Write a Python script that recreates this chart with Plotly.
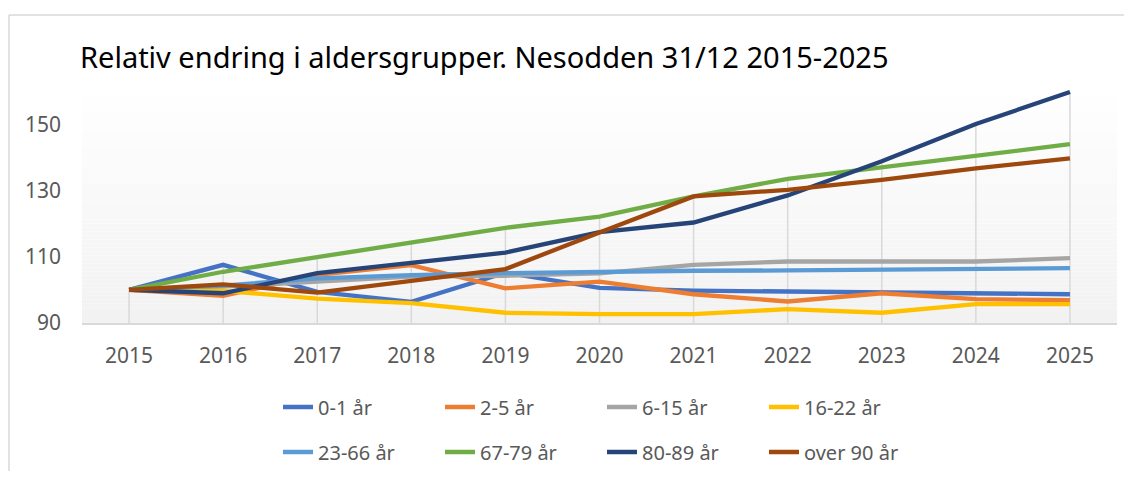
import plotly.graph_objects as go

years = [2015, 2016, 2017, 2018, 2019, 2020, 2021, 2022, 2023, 2024, 2025]

age_0_1 = [100, 107.6, 99.4, 96.4, 105.2, 100.6, 99.8, 99.5, 99.3, 99.0, 98.7]
age_2_5 = [100, 98.2, 104.6, 107.5, 100.5, 102.5, 98.7, 96.5, 99.0, 97.2, 96.9]
age_6_15 = [100, 101.0, 102.5, 104.0, 104.3, 105.0, 107.6, 108.6, 108.6, 108.6, 109.6]
age_16_22 = [100, 99.7, 97.4, 96.0, 93.1, 92.7, 92.7, 94.2, 93.1, 95.7, 95.7]
age_23_66 = [100, 101.3, 103.5, 104.5, 105.1, 105.5, 105.8, 105.9, 106.1, 106.3, 106.6]
age_67_79 = [100, 105.5, 109.9, 114.5, 118.8, 122.2, 128.3, 133.6, 137.2, 140.6, 144.1]
age_80_89 = [100, 99.0, 105.1, 108.1, 111.3, 117.5, 120.4, 128.6, 138.9, 150.2, 159.9]
age_90_plus = [100, 101.7, 99.2, 102.8, 106.3, 117.4, 128.3, 130.3, 133.3, 136.8, 139.8]

series_names = ["0-1 år", "2-5 år", "6-15 år", "16-22 år",
                "23-66 år", "67-79 år", "80-89 år", "over 90 år"]
series_values = [age_0_1, age_2_5, age_6_15, age_16_22,
                 age_23_66, age_67_79, age_80_89, age_90_plus]
colors = ["#4472C4", "#ED7D31", "#A5A5A5", "#FFC000",
          "#5B9BD5", "#70AD47", "#264478", "#9E480E"]

y_ticks = [90, 110, 130, 150]
title_text = "Relativ endring i aldersgrupper. Nesodden 31/12 2015-2025"

# the page body adds an 8px margin on every side; keep the figure inside
# the window so no scrollbars appear (figure px = page px - 8)
W, H = 1124, 463
ML, MR, MT, MB = 74, 15, 77, 148
YMIN, YMAX = 90, 162

fig = go.Figure()

# Drop lines (from highest point of each category down to the axis)
drop_x, drop_y = [], []
for i, yr in enumerate(years):
    top = max(s[i] for s in series_values)
    drop_x += [yr, yr, None]
    drop_y += [YMIN, top, None]
fig.add_trace(go.Scatter(x=drop_x, y=drop_y, mode="lines",
                         line=dict(color="#D9D9D9", width=1.5),
                         hoverinfo="skip", showlegend=False))

for k, (name, vals, col) in enumerate(zip(series_names, series_values, colors)):
    fig.add_trace(go.Scatter(
        x=years, y=vals, name=name, mode="lines",
        line=dict(color=col, width=4.3),
        legend="legend" if k < 4 else "legend2",
    ))

# gradient background of plot area
shapes = []
n = 60
for i in range(n):
    t = i / (n - 1)
    c = int(round(255 - (255 - 242) * (1 - t)))
    shapes.append(dict(type="rect", xref="x domain", yref="y domain",
                       x0=0, x1=1, y0=i / n, y1=(i + 1) / n,
                       fillcolor=f"rgb({c},{c},{c})", line=dict(width=0),
                       layer="below"))

pw = W - ML - MR
ph = H - MT - MB

def py(p):
    return (H - MB - p) / ph

def px(p):
    return (p - ML) / pw

# outer chart border (top and left edges)
border = dict(color="#D9D9D9", width=1.5)
shapes.append(dict(type="line", xref="paper", yref="paper",
                   x0=px(1), x1=px(W), y0=py(7), y1=py(7), line=border, layer="below"))
shapes.append(dict(type="line", xref="paper", yref="paper",
                   x0=px(1), x1=px(1), y0=py(7), y1=py(H), line=border, layer="below"))

font_family = "Noto Sans, Open Sans, sans-serif"
lab_col = "#595959"

legend_common = dict(orientation="h", xanchor="left", yanchor="middle",
                     xref="container", yref="container",
                     entrywidthmode="pixels", entrywidth=117,
                     font=dict(family=font_family, size=20, color=lab_col),
                     bgcolor="rgba(0,0,0,0)", itemclick=False, itemdoubleclick=False,
                     tracegroupgap=0)

fig.update_layout(
    width=W, height=H,
    margin=dict(l=ML, r=MR, t=MT, b=MB, autoexpand=False),
    paper_bgcolor="white",
    plot_bgcolor="rgba(0,0,0,0)",
    shapes=shapes,
    title=dict(text=title_text, x=72 / W, xanchor="left", xref="container",
               y=1 - 50 / H, yanchor="middle",
               font=dict(family=font_family, size=29, color="#000000")),
    xaxis=dict(range=[2014.5, 2025.5], tickvals=years, ticktext=[str(y) for y in years],
               showgrid=False, zeroline=False, showline=True, automargin=False,
               linecolor="#D9D9D9", linewidth=1.5, ticks="",
               ticklabelstandoff=13,
               tickfont=dict(family=font_family, size=21, color=lab_col)),
    yaxis=dict(range=[YMIN, YMAX], tickvals=y_ticks, showgrid=False,
               zeroline=False, showline=False, ticks="", automargin=False,
               ticklabelstandoff=20,
               tickfont=dict(family=font_family, size=21, color=lab_col)),
    legend=dict(x=270 / W, y=1 - 399 / H, **legend_common),
    legend2=dict(x=270 / W, y=1 - 444 / H, **legend_common),
    hovermode=False,
)

fig.write_html("out.html")
